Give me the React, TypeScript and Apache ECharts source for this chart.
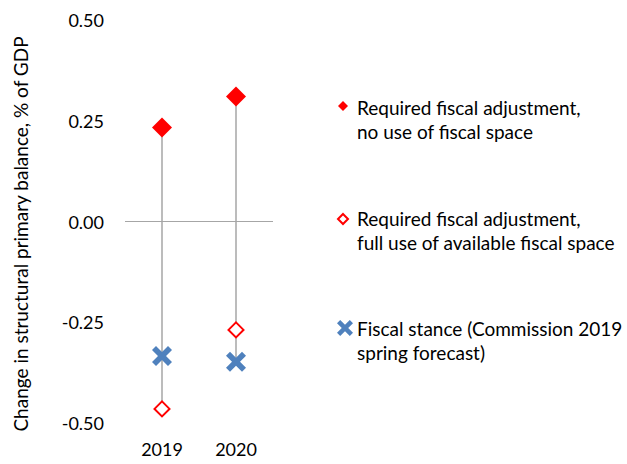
import React, { useEffect, useRef } from "react";
import * as echarts from "echarts";

const categories = ["2019", "2020"];
const noFiscalSpace = [0.233, 0.31];
const fullFiscalSpace = [-0.465, -0.269];
const fiscalStance = [-0.334, -0.348];
const yTicks = { min: -0.5, max: 0.5, interval: 0.25 };

const legendLabels = [
  "Required fiscal adjustment,\nno use of fiscal space",
  "Required fiscal adjustment,\nfull use of available fiscal space",
  "Fiscal stance (Commission 2019\nspring forecast)",
];
const yAxisTitle = "Change in structural primary balance, % of GDP";

const RED = "#ff0000";
const BLUE = "#4f81bd";
const GREY = "#a6a6a6";
const FONT = "Lato";
const X_PATH = "M2,0L5,3L8,0L10,2L7,5L10,8L8,10L5,7L2,10L0,8L3,5L0,2Z";

export default function App() {
  const ref = useRef<HTMLDivElement>(null);
  useEffect(() => {
    if (!ref.current) return;
    document.body.style.margin = "0";
    echarts.graphic.registerShape("xmark", echarts.graphic.extendPath(X_PATH, {}) as any);
    const chart = echarts.init(ref.current, null, { renderer: "svg" });
    const ranges = categories.map((_, i) => {
      const vals = [noFiscalSpace[i], fullFiscalSpace[i], fiscalStance[i]];
      return [i, Math.max(...vals), Math.min(...vals)];
    });
    chart.setOption({
      animation: false,
      grid: { left: 125, right: 354, top: 20, bottom: 41 },
      xAxis: {
        type: "category",
        data: categories,
        axisLine: { show: false },
        axisTick: { show: false },
        axisLabel: { margin: 17, color: "#000", fontFamily: FONT, fontSize: 18 },
      },
      yAxis: {
        type: "value",
        min: yTicks.min,
        max: yTicks.max,
        interval: yTicks.interval,
        splitLine: { show: false },
        axisLine: { show: false },
        axisTick: { show: false },
        axisLabel: {
          margin: 21,
          color: "#000",
          fontFamily: FONT,
          fontSize: 18,
          formatter: (v: number) => v.toFixed(2),
        },
      },
      series: [
        {
          type: "custom",
          name: "range",
          data: ranges,
          z: 1,
          renderItem: (params: any, api: any) => {
            const p1 = api.coord([api.value(0), api.value(1)]);
            const p2 = api.coord([api.value(0), api.value(2)]);
            return {
              type: "line",
              shape: { x1: p1[0], y1: p1[1], x2: p2[0], y2: p2[1] },
              style: { stroke: GREY, lineWidth: 1.5 },
            };
          },
          markLine: {
            silent: true,
            symbol: "none",
            label: { show: false },
            lineStyle: { color: GREY, width: 1, type: "solid" },
            data: [{ yAxis: 0 }],
          },
        },
        {
          type: "scatter",
          name: legendLabels[0],
          data: noFiscalSpace,
          symbol: "diamond",
          symbolSize: 20,
          itemStyle: { color: RED, opacity: 1 },
          z: 3,
        },
        {
          type: "scatter",
          name: legendLabels[1],
          data: fullFiscalSpace,
          symbol: "diamond",
          symbolSize: 15,
          itemStyle: { color: "#fff", borderColor: RED, borderWidth: 2, opacity: 1 },
          z: 3,
        },
        {
          type: "scatter",
          name: legendLabels[2],
          data: fiscalStance,
          symbol: "path://" + X_PATH,
          symbolSize: 20,
          itemStyle: { color: BLUE, opacity: 1 },
          z: 3,
        },
      ],
      graphic: [
        {
          type: "text",
          x: 20,
          y: 234,
          rotation: Math.PI / 2,
          style: {
            text: yAxisTitle,
            fill: "#000",
            font: `19px ${FONT}`,
            align: "center",
            verticalAlign: "middle",
          },
        },
        {
          type: "polygon",
          shape: { points: [[343, 101], [348, 106], [343, 111], [338, 106]] },
          style: { fill: RED },
        },
        {
          type: "polygon",
          shape: { points: [[343, 214], [348, 219], [343, 224], [338, 219]] },
          style: { fill: "#fff", stroke: RED, lineWidth: 2 },
        },
        {
          type: "xmark",
          x: 337,
          y: 320,
          scaleX: 1.6,
          scaleY: 1.6,
          style: { fill: BLUE },
        },
        {
          type: "text",
          x: 357,
          y: 95,
          style: { text: legendLabels[0], fill: "#000", font: `19px ${FONT}`, lineHeight: 24, verticalAlign: "top" },
        },
        {
          type: "text",
          x: 357,
          y: 206,
          style: { text: legendLabels[1], fill: "#000", font: `19px ${FONT}`, lineHeight: 24, verticalAlign: "top" },
        },
        {
          type: "text",
          x: 357,
          y: 316,
          style: { text: legendLabels[2], fill: "#000", font: `19px ${FONT}`, lineHeight: 24, verticalAlign: "top" },
        },
      ],
    });
    return () => chart.dispose();
  }, []);
  return (
    <div
      ref={ref}
      style={{ position: "absolute", left: 0, top: 0, width: 627, height: 464 }}
    />
  );
}
